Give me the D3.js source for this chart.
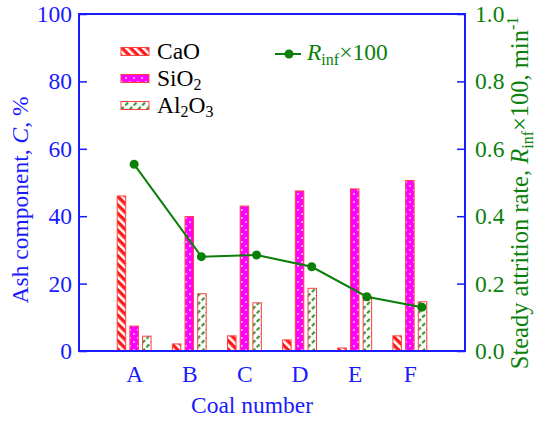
<!DOCTYPE html>
<html>
  <head>
    <meta charset="utf-8">
    <title>Ash components and attrition rate</title>
    <script src="https://d3js.org/d3.v7.min.js"></script>
    <style>
      body { margin: 0; background: #fff; }
      text { font-family: "Liberation Serif", "Times New Roman", serif; }
    </style>
  </head>
  <body>
    <script>

      // data
      var coals = ["A", "B", "C", "D", "E", "F"];
      var caO   = [46.0, 2.1, 4.5, 3.3, 0.9, 4.5];
      var siO2  = [7.4, 39.9, 43.0, 47.5, 48.1, 50.6];
      var al2O3 = [4.4, 17.0, 14.3, 18.6, 16.0, 14.6];
      var rInf  = [0.554, 0.280, 0.285, 0.250, 0.161, 0.130];
      // where each marker sits along the coal axis (1 = A, 2 = B ...)
      var rPos  = [1, 2.22, 3.22, 4.22, 5.22, 6.22];
      var leftTicks  = [0, 20, 40, 60, 80, 100];
      var rightTicks = [0, 0.2, 0.4, 0.6, 0.8, 1.0];

      var mL = 79, mR = 465, mT = 14, mB = 351;
      var blue = "#1a1aff", green = "#0a800a";
      var fs = 23.5, fsSub = 16;
      var serif = "'Liberation Serif', 'Times New Roman', serif";

      var svg = d3.select("body").append("svg")
                  .attr("width", 535)
                  .attr("height", 423)
                  .attr("font-family", serif);

      var defs = svg.append("defs");

      // CaO: red with white stripes
      var p1 = defs.append("pattern").attr("id", "pCaO")
                   .attr("patternUnits", "userSpaceOnUse")
                   .attr("width", 6).attr("height", 6)
                   .attr("patternTransform", "rotate(-45)");
      p1.append("rect").attr("width", 6).attr("height", 6).attr("fill", "#ff1a1a");
      p1.append("rect").attr("width", 2.6).attr("height", 6).attr("fill", "#fff");

      // SiO2: magenta with white dots
      var p2 = defs.append("pattern").attr("id", "pSiO2")
                   .attr("patternUnits", "userSpaceOnUse")
                   .attr("width", 8).attr("height", 8);
      p2.append("rect").attr("width", 8).attr("height", 8).attr("fill", "#ff00ff");
      p2.append("circle").attr("cx", 2).attr("cy", 2).attr("r", 1).attr("fill", "#ffd0ff");
      p2.append("circle").attr("cx", 6).attr("cy", 6).attr("r", 1).attr("fill", "#ffd0ff");

      // Al2O3: white with green stripes
      var p3 = defs.append("pattern").attr("id", "pAl")
                   .attr("patternUnits", "userSpaceOnUse")
                   .attr("width", 6).attr("height", 6)
                   .attr("patternTransform", "rotate(45)");
      p3.append("rect").attr("width", 6).attr("height", 6).attr("fill", "#fff");
      p3.append("rect").attr("width", 2.2).attr("height", 4).attr("fill", "#3a9a3a");

      var x = d3.scaleLinear().domain([0, 7]).range([mL, mR]);
      var y = d3.scaleLinear().domain([0, 100]).range([mB, mT]);
      var y2 = d3.scaleLinear().domain([0, 1]).range([mB, mT]);

      var series = [
        {name: "CaO", vals: caO, fill: "url(#pCaO)", off: -0.23},
        {name: "SiO2", vals: siO2, fill: "url(#pSiO2)", off: 0},
        {name: "Al2O3", vals: al2O3, fill: "url(#pAl)", off: 0.23}
      ];
      var barW = 8.5;

      series.forEach(function(s) {
        svg.append("g").selectAll("rect")
           .data(s.vals)
           .enter()
           .append("rect")
           .attr("x", function(d, i) { return x(i + 1 + s.off) - barW / 2; })
           .attr("y", function(d) { return y(d); })
           .attr("width", barW)
           .attr("height", function(d) { return mB - y(d); })
           .attr("fill", s.fill)
           .attr("stroke", "#ff4040")
           .attr("stroke-width", 1);
      });

      // line for R_inf
      var pts = rInf.map(function(d, i) { return [x(rPos[i]), y2(d)]; });
      svg.append("path")
         .attr("d", d3.line()(pts))
         .attr("fill", "none")
         .attr("stroke", green)
         .attr("stroke-width", 2);
      svg.append("g").selectAll("circle")
         .data(pts)
         .enter()
         .append("circle")
         .attr("cx", function(d) { return d[0]; })
         .attr("cy", function(d) { return d[1]; })
         .attr("r", 4.5)
         .attr("fill", green);

      // frame and axes
      svg.append("rect")
         .attr("x", mL).attr("y", mT)
         .attr("width", mR - mL).attr("height", mB - mT)
         .attr("fill", "none")
         .attr("stroke", blue)
         .attr("stroke-width", 2);

      var yAxis = d3.axisLeft(y).tickValues(leftTicks).tickSizeInner(-8).tickSizeOuter(0).tickPadding(7);
      var gy = svg.append("g").attr("transform", "translate(" + mL + ",0)").call(yAxis)
                  .attr("font-family", serif);
      gy.select(".domain").remove();
      gy.selectAll("line").attr("stroke", blue).attr("stroke-width", 1.5);
      gy.selectAll("text").attr("fill", blue).attr("font-size", fs);

      var yAxis2 = d3.axisRight(y2).tickValues(rightTicks).tickFormat(d3.format(".1f"))
                     .tickSizeInner(-8).tickSizeOuter(0).tickPadding(10);
      var gy2 = svg.append("g").attr("transform", "translate(" + mR + ",0)").call(yAxis2)
                   .attr("font-family", serif);
      gy2.select(".domain").remove();
      gy2.selectAll("line").attr("stroke", blue).attr("stroke-width", 1.5);
      gy2.selectAll("text").attr("fill", green).attr("font-size", fs);

      var xAxis = d3.axisBottom(x).tickValues([1, 2, 3, 4, 5, 6])
                    .tickFormat(function(d) { return coals[d - 1]; })
                    .tickSize(0).tickPadding(14);
      var gx = svg.append("g").attr("transform", "translate(0," + mB + ")").call(xAxis)
                  .attr("font-family", serif);
      gx.select(".domain").remove();
      gx.selectAll("text").attr("fill", blue).attr("font-size", fs);

      // axis titles
      svg.append("text")
         .attr("x", 252).attr("y", 413)
         .attr("text-anchor", "middle")
         .attr("fill", blue).attr("font-size", fs)
         .text("Coal number");

      var lt = svg.append("text")
         .attr("transform", "translate(28,200) rotate(-90)")
         .attr("text-anchor", "middle")
         .attr("fill", blue).attr("font-size", fs);
      lt.append("tspan").text("Ash component, ");
      lt.append("tspan").attr("font-style", "italic").text("C");
      lt.append("tspan").text(", %");

      var rt = svg.append("text")
         .attr("transform", "translate(528,193) rotate(-90)")
         .attr("text-anchor", "middle")
         .attr("fill", green).attr("font-size", 24.5);
      rt.append("tspan").text("Steady attrition rate, ");
      rt.append("tspan").attr("font-style", "italic").text("R");
      rt.append("tspan").attr("font-size", fsSub).attr("dy", 5).text("inf");
      rt.append("tspan").attr("dy", -5).text("\u00d7100, min");
      rt.append("tspan").attr("font-size", fsSub).attr("dy", -10).text("-1");

      // legend
      var leg = svg.append("g");
      series.forEach(function(s, i) {
        var ly = 51.5 + i * 27;
        leg.append("rect")
           .attr("x", 121).attr("y", ly - 4)
           .attr("width", 28).attr("height", 8)
           .attr("fill", s.fill)
           .attr("stroke", "#ff4040");
      });
      var names = [["CaO"], ["SiO", "2"], ["Al", "2", "O", "3"]];
      names.forEach(function(parts, i) {
        var t = leg.append("text")
                   .attr("x", 157).attr("y", 58.5 + i * 27)
                   .attr("font-size", fs).attr("fill", "#000");
        parts.forEach(function(p, j) {
          var sub = j % 2 === 1;
          t.append("tspan")
           .attr("font-size", sub ? fsSub : fs)
           .attr("dy", sub ? 4 : (j > 0 ? -4 : 0))
           .text(p);
        });
      });

      leg.append("line")
         .attr("x1", 275).attr("x2", 301).attr("y1", 54).attr("y2", 54)
         .attr("stroke", green).attr("stroke-width", 2);
      leg.append("circle").attr("cx", 289).attr("cy", 54).attr("r", 4.5).attr("fill", green);
      var lr = leg.append("text")
                  .attr("x", 307).attr("y", 60)
                  .attr("font-size", fs).attr("fill", green);
      lr.append("tspan").attr("font-style", "italic").text("R");
      lr.append("tspan").attr("font-size", fsSub).attr("dy", 5).text("inf");
      lr.append("tspan").attr("dy", -5).text("\u00d7100");

    </script>
  </body>
</html>
